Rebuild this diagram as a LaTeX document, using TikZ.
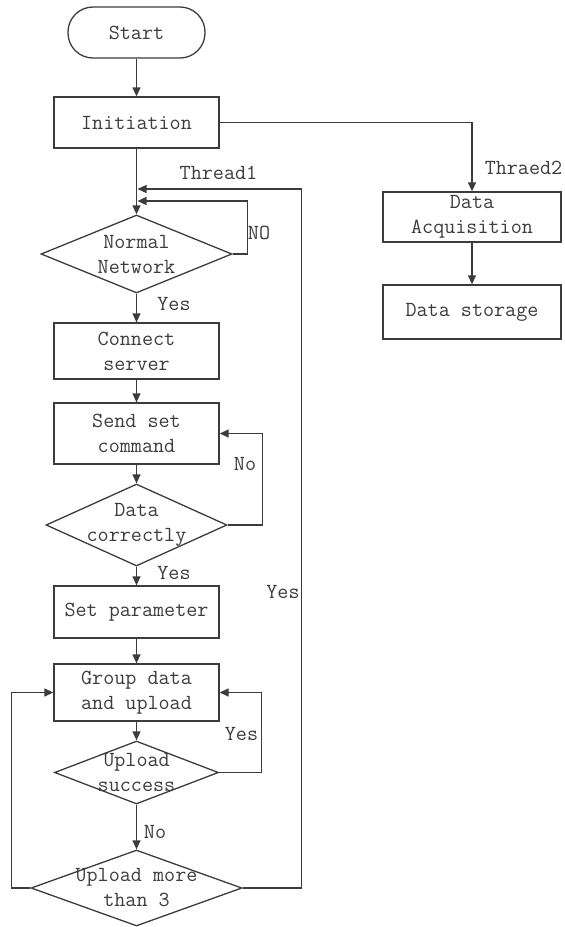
\documentclass[tikz,border=0pt]{standalone}
\usepackage{fontspec}
\usetikzlibrary{shapes.geometric,arrows.meta}
\definecolor{ink}{RGB}{60,60,60}

\begin{document}
\begin{tikzpicture}[x=1pt,y=-1pt,
  every node/.style={font=\ttfamily\fontsize{21.5pt}{25pt}\selectfont, text=ink},
  shp/.style={draw=ink, line width=1.3pt, inner sep=0pt, align=center},
  box/.style={shp, rectangle, minimum width=165pt},
  rbox/.style={shp, rectangle, minimum width=178pt},
  term/.style={shp, rectangle, rounded corners=25pt, minimum width=137pt, minimum height=51pt},
  dec/.style={shp, diamond},
  dtext/.style={align=center, inner sep=0pt},
  tag/.style={inner sep=0pt},
  arr/.style={draw=ink, line width=1.3pt, -{Triangle[length=9pt,width=8pt]}}
]
\useasboundingbox (0,0) rectangle (565,927);

% main thread column
\node[term] (start) at (136.5,32.5) {Start};
\node[box, minimum height=51pt] (init) at (136.5,122.5) {Initiation};
\node[dec, minimum width=191pt, minimum height=78pt,
      label={[dtext]center:{Normal\\Network}}] (net) at (136.5,254) {};
\node[box, minimum height=56pt] (conn) at (136.5,351) {Connect\\server};
\node[box, minimum height=61pt] (send) at (136.5,433.5) {Send set\\command};
\node[dec, minimum width=181pt, minimum height=82pt,
      label={[dtext]center:{Data\\correctly}}] (corr) at (136.5,525) {};
\node[box, minimum height=52pt] (param) at (136.5,612) {Set parameter};
\node[box, minimum height=57pt] (group) at (136.5,692.5) {Group data\\and upload};
\node[dec, minimum width=164pt, minimum height=63pt,
      label={[dtext]center:{Upload\\success}}] (succ) at (136.5,772.5) {};
\node[dec, minimum width=211pt, minimum height=76pt,
      label={[dtext]center:{Upload more\\than 3}}] (more) at (136.5,888) {};

% second thread column
\node[rbox, minimum height=50pt] (acq) at (472,217) {Data\\Acquisition};
\node[rbox, minimum height=54pt] (store) at (472,312) {Data storage};

% junctions on the trunk below Initiation
\coordinate (jT1) at (137.5,189);
\coordinate (jNo) at (137.5,201);

% connectors
\draw[arr] (start) -- (init);
\draw[arr] (init) -- (net);
\draw[arr] (init.east) -| (acq.north);
\draw[arr] (acq) -- (store);
\draw[arr] (net.east) -- ++(15,0) |- (jNo);
\draw[arr] (net) -- (conn);
\draw[arr] (conn) -- (send);
\draw[arr] (send) -- (corr);
\draw[arr] (corr.east) -- ++(35,0) |- (send.east);
\draw[arr] (corr) -- (param);
\draw[arr] (param) -- (group);
\draw[arr] (group) -- (succ);
\draw[arr] (succ.east) -- ++(42,0) |- (group.east);
\draw[arr] (succ) -- (more);
\draw[arr] (more.west) -- ++(-19,0) |- (group.west);
\draw[arr] (more.east) -- ++(59,0) |- (jT1);

% connector labels
\node[tag] (lT1) at (218.5,173) {Thread1};
\node[tag] (lT2) at (523.5,168) {Thraed2};
\node[tag] (lNO) at (259,233) {NO};
\node[tag] (lY1) at (174,304) {Yes};
\node[tag] (lN2) at (245,464) {No};
\node[tag] (lY2) at (174,573) {Yes};
\node[tag] (lY3) at (283,592) {Yes};
\node[tag] (lY4) at (241.5,734) {Yes};
\node[tag] (lN3) at (155,832) {No};
\end{tikzpicture}
\end{document}
